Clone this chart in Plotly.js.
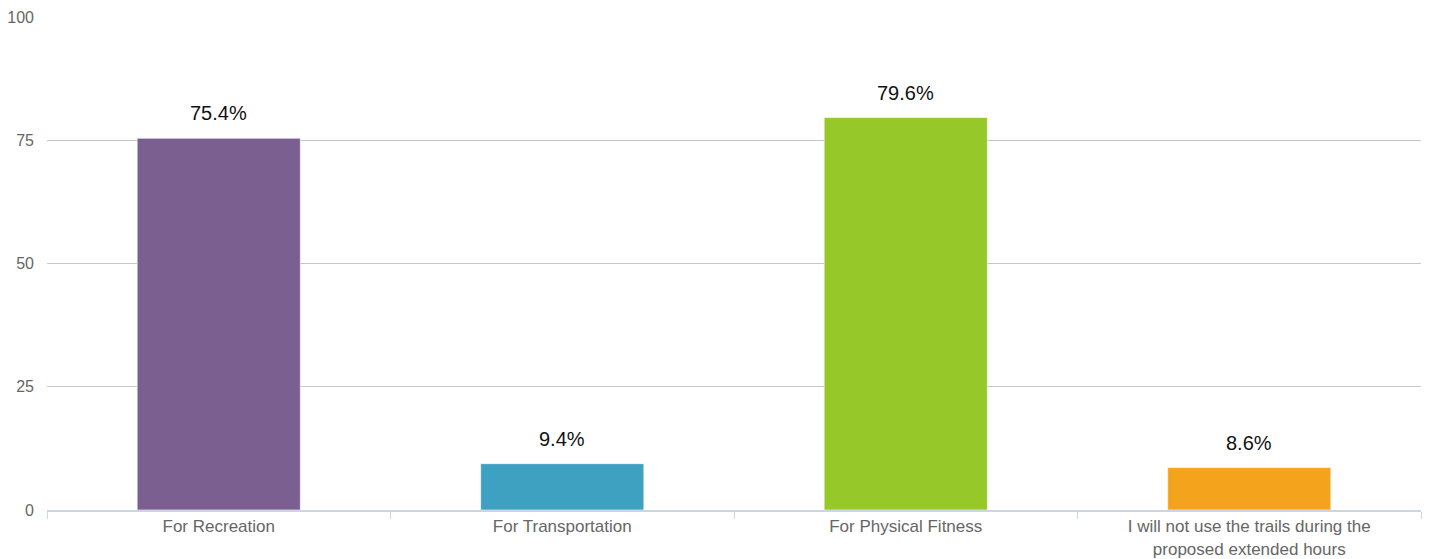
<!DOCTYPE html>
<html>
<head>
<meta charset="utf-8">
<script src="https://cdn.plot.ly/plotly-3.0.1.min.js"></script>
<style>html,body{margin:0;padding:0;background:#fff;}#chart{width:1430px;height:559px;}</style>
</head>
<body>
<div id="chart"></div>
<script>
const categories = ["For Recreation", "For Transportation", "For Physical Fitness", "I will not use the trails during the<br>proposed extended hours"];
const values = [75.4, 9.4, 79.6, 8.6];
const barColors = ["#7b5f91", "#3fa1c1", "#95c828", "#f4a41c"];
const yTicks = [0, 25, 50, 75, 100];

const trace = {
  type: "bar",
  x: categories,
  y: values,
  width: 0.475,
  marker: {color: barColors, line: {color: "rgba(255,255,255,0.6)", width: 1}},
  hoverinfo: "none"
};

const annotations = values.map((v, i) => ({
  x: categories[i], y: v, xref: "x", yref: "y",
  text: v.toFixed(1) + "%", showarrow: false,
  yanchor: "bottom", yshift: 12,
  font: {family: "Liberation Sans, Arial, sans-serif", size: 20, color: "#111"}
}));

const layout = {
  width: 1430, height: 559,
  margin: {l: 47, r: 9, t: 17, b: 49},
  paper_bgcolor: "#fff", plot_bgcolor: "#fff",
  showlegend: false,
  bargap: 0.525,
  font: {family: "Liberation Sans, Arial, sans-serif", size: 16, color: "#666"},
  xaxis: {
    showgrid: false, zeroline: false,
    showline: true, linecolor: "#ccd6e3", linewidth: 2,
    ticks: "outside", tickson: "boundaries", ticklen: 7, tickcolor: "#ccd6e3", tickwidth: 1,
    tickfont: {size: 17, color: "#666"}
  },
  yaxis: {
    range: [0, 100], tickvals: yTicks, ticktext: yTicks.map(String),
    showgrid: true, gridcolor: "#c6c6c6", gridwidth: 1,
    zeroline: false, showline: false, ticks: "", ticklabelstandoff: 12,
    tickfont: {size: 16, color: "#666"}
  },
  annotations: annotations
};

Plotly.newPlot("chart", [trace], layout, {displayModeBar: false, staticPlot: true});
</script>
</body>
</html>
